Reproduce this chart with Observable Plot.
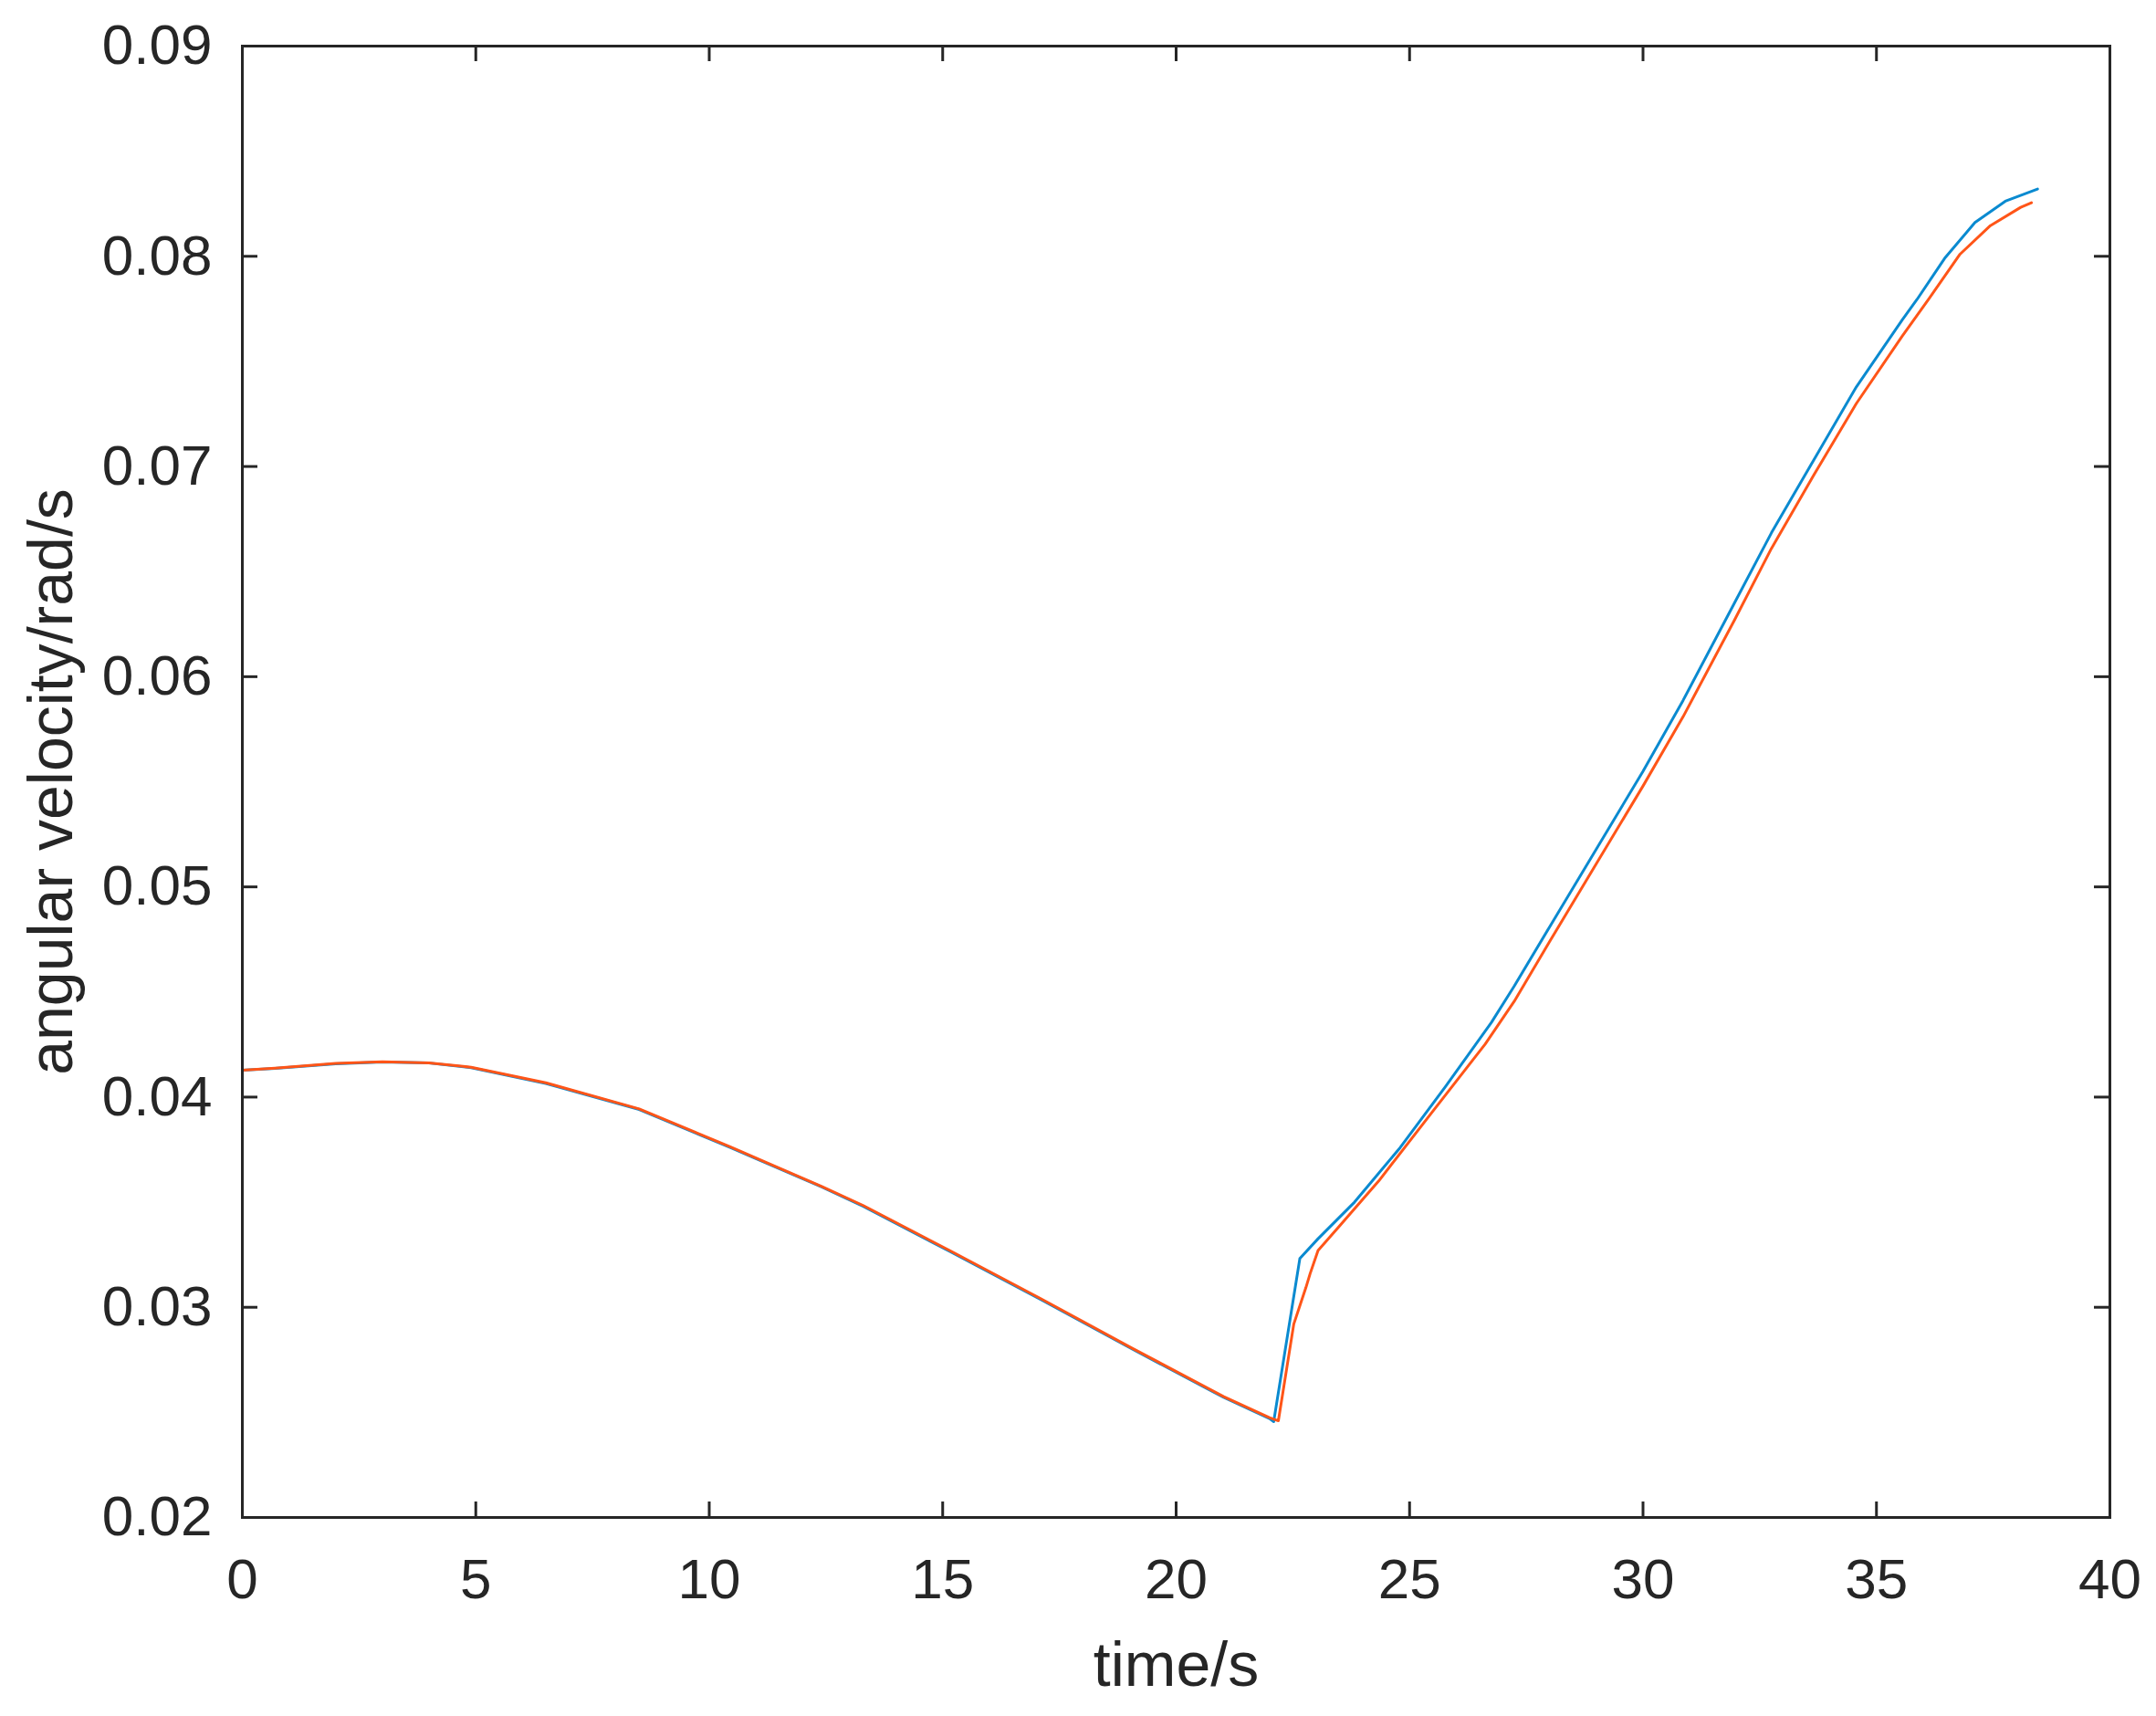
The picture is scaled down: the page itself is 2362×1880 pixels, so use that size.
<!DOCTYPE html>
<html>
<head>
<meta charset="utf-8">
<script src="https://cdn.jsdelivr.net/npm/d3@7"></script>
<script src="https://cdn.jsdelivr.net/npm/@observablehq/plot@0.6"></script>
<style>
  html, body { margin: 0; padding: 0; background: #ffffff; }
  #chart { width: 2362px; height: 1880px; }
</style>
</head>
<body>
<div id="chart"></div>
<script>
// Tick values
const xTicks = [0, 5, 10, 15, 20, 25, 30, 35, 40];
const yTicks = [0.02, 0.03, 0.04, 0.05, 0.06, 0.07, 0.08, 0.09];

// Series 1 (blue)
const blueT = [0, 0.7, 2.0, 3.0, 4.0, 4.9, 6.5, 8.5, 10.46, 12.41, 13.3, 15.15, 17.11, 19.06, 21.02, 22.0, 22.09,
  22.65, 23.04, 23.82, 24.8, 25.77, 26.75, 27.24, 28.0, 29.0, 30.0, 30.86, 31.96, 32.75, 33.66, 34.57, 35.55, 35.87,
  36.46, 37.11, 37.76, 38.45];
const blueV = [0.04128, 0.04137, 0.04158, 0.04167, 0.04162, 0.04140, 0.04065, 0.03941, 0.03759, 0.03572, 0.03480, 0.03266, 0.03036, 0.02801, 0.02571, 0.02471, 0.02456,
  0.03232, 0.03326, 0.03500, 0.03760, 0.04050, 0.04354, 0.04527, 0.04810, 0.05180, 0.05550, 0.05888, 0.06351, 0.06684, 0.07032, 0.07379, 0.07697, 0.07795,
  0.07990, 0.08161, 0.08262, 0.08320];

// Series 2 (orange)
const orangeT = [0, 0.7, 2.0, 3.0, 4.0, 4.9, 6.5, 8.5, 10.46, 12.41, 13.3, 15.15, 17.11, 19.06, 21.02, 22.0, 22.19,
  22.52, 22.78, 22.87, 23.04, 23.49, 24.34, 25.45, 26.62, 27.24, 28.0, 29.0, 30.0, 30.86, 31.96, 32.75, 33.66, 34.57,
  35.55, 36.13, 36.79, 37.44, 38.09, 38.32];
const orangeV = [0.04128, 0.04138, 0.04160, 0.04168, 0.04163, 0.04142, 0.04068, 0.03944, 0.03762, 0.03575, 0.03484, 0.03270, 0.03040, 0.02805, 0.02575, 0.02475, 0.02460,
  0.02920, 0.03094, 0.03160, 0.03270, 0.03384, 0.03601, 0.03919, 0.04252, 0.04455, 0.04740, 0.05110, 0.05480, 0.05810, 0.06270, 0.06610, 0.06960, 0.07300,
  0.07620, 0.07800, 0.08010, 0.08146, 0.08233, 0.08255];

const blue = blueT.map((t, i) => ({t, v: blueV[i]}));
const orange = orangeT.map((t, i) => ({t, v: orangeV[i]}));

const W = 2362, H = 1880;
const mL = 265, mR = 51, mT = 50, mB = 218;
const innerW = W - mL - mR, innerH = H - mT - mB;
const ink = "#262626";
const tickLen = 17;

const chart = Plot.plot({
  width: W,
  height: H,
  marginLeft: mL,
  marginRight: mR,
  marginTop: mT,
  marginBottom: mB,
  style: {fontFamily: "'Liberation Sans', Arial, Helvetica, sans-serif", background: "#ffffff", color: ink},
  x: {domain: [0, 40]},
  y: {domain: [0.02, 0.09]},
  marks: [
    Plot.axisX(xTicks, {tickSize: 0, tickPadding: 44, fontSize: 62, tickFormat: d => String(d), label: null, fill: ink}),
    Plot.axisY(yTicks, {tickSize: 0, tickPadding: 33, fontSize: 62, tickFormat: d3.format(".2f"), label: null, fill: ink}),
    Plot.tickX(xTicks, {x: d => d, insetTop: innerH - tickLen, stroke: ink, strokeWidth: 3}),
    Plot.tickX(xTicks, {x: d => d, insetBottom: innerH - tickLen, stroke: ink, strokeWidth: 3}),
    Plot.tickY(yTicks, {y: d => d, insetRight: innerW - tickLen, stroke: ink, strokeWidth: 3}),
    Plot.tickY(yTicks, {y: d => d, insetLeft: innerW - tickLen, stroke: ink, strokeWidth: 3}),
    Plot.line(blue, {x: "t", y: "v", stroke: "#0a8ad0", strokeWidth: 3}),
    Plot.line(orange, {x: "t", y: "v", stroke: "#ff5518", strokeWidth: 3}),
    Plot.frame({stroke: ink, strokeWidth: 3}),
    Plot.text(["time/s"], {frameAnchor: "bottom", dy: 163, lineAnchor: "middle", textAnchor: "middle", fontSize: 68, fill: ink, text: d => d}),
    Plot.text(["angular velocity/rad/s"], {frameAnchor: "left", dx: -208, rotate: -90, lineAnchor: "middle", textAnchor: "middle", fontSize: 68, fill: ink, text: d => d})
  ]
});
document.getElementById("chart").appendChild(chart);
</script>
</body>
</html>
